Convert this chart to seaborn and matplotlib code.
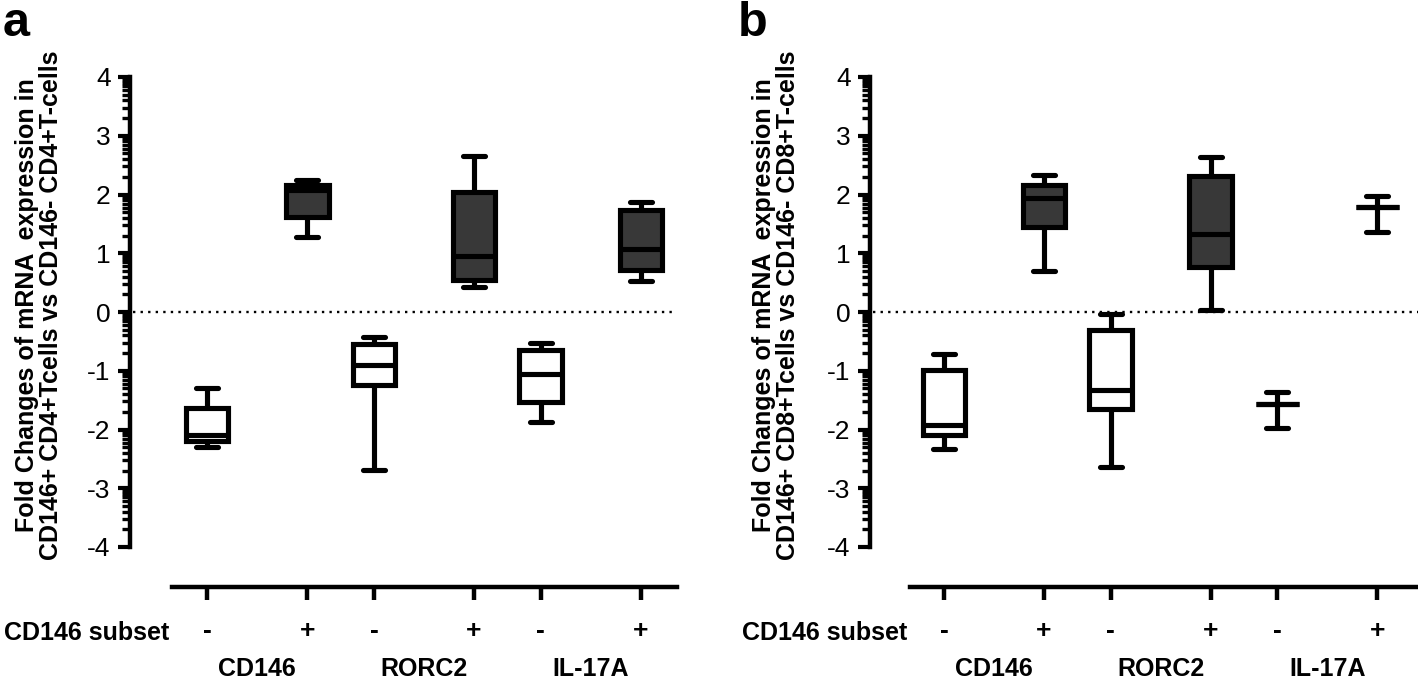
import numpy as np
import pandas as pd
import seaborn as sns
import matplotlib.pyplot as plt
from matplotlib.ticker import FixedLocator

genes = ['CD146', 'RORC2', 'IL-17A']
subsets = ['-', '+']

# five-number summaries
# order: CD146 -, CD146 +, RORC2 -, RORC2 +, IL-17A -, IL-17A +
cd4_min = [-2.29, 1.28, -2.69, 0.42, -1.87, 0.53]
cd4_q1 = [-2.20, 1.62, -1.24, 0.55, -1.53, 0.71]
cd4_med = [-2.10, 2.08, -0.91, 0.96, -1.05, 1.08]
cd4_q3 = [-1.64, 2.17, -0.55, 2.05, -0.64, 1.73]
cd4_max = [-1.30, 2.24, -0.42, 2.65, -0.53, 1.87]

cd8_min = [-2.34, 0.70, -2.63, 0.03, -1.98, 1.36]
cd8_q1 = [-2.09, 1.45, -1.65, 0.76, -1.57, 1.78]
cd8_med = [-1.92, 1.94, -1.32, 1.33, -1.57, 1.78]
cd8_q3 = [-0.98, 2.16, -0.31, 2.32, -1.57, 1.78]
cd8_max = [-0.71, 2.33, -0.03, 2.63, -1.36, 1.98]

ylabel_cd4 = 'Fold Changes of mRNA  expression in\nCD146+ CD4+Tcells vs CD146- CD4+T-cells'
ylabel_cd8 = 'Fold Changes of mRNA  expression in\nCD146+ CD8+Tcells vs CD146- CD8+T-cells'

sns.set_style('ticks')
plt.rcParams['font.family'] = ['Liberation Sans', 'DejaVu Sans']
plt.rcParams['axes.unicode_minus'] = False
for k in ('text.color', 'axes.labelcolor', 'axes.edgecolor', 'xtick.color', 'ytick.color'):
    plt.rcParams[k] = 'black'

W, H = 1418, 685
PT = 0.72  # points per pixel at dpi 100


def make_frame(mins, q1s, meds, q3s, maxs):
    rows = []
    i = 0
    for gi, g in enumerate(genes):
        for s in subsets:
            pos = gi * 2.5 + (1.5 if s == '+' else 0.0)
            for v in (mins[i], q1s[i], meds[i], q3s[i], maxs[i]):
                rows.append({'gene': g, 'subset': s, 'pos': pos, 'value': v})
            i += 1
    return pd.DataFrame(rows)


def px_axes(fig, left, right, top, bottom):
    return fig.add_axes([left / W, 1 - bottom / H, (right - left) / W, (bottom - top) / H])


def draw_panel(ax, df, ylabel, xlim, spine_px, left_px, width_px, line_end):
    ax.axhline(0, xmin=(spine_px + 3 - left_px) / width_px, xmax=line_end,
               color='black', lw=1.7, ls=(0, (1, 2.2)), clip_on=False, zorder=0.5)
    sns.boxplot(data=df, x='pos', y='value', hue='subset', hue_order=subsets,
                palette={'-': 'white', '+': '#383838'}, saturation=1,
                native_scale=True, dodge=False, width=0.64, whis=(0, 100),
                linecolor='black', linewidth=3.7, capwidths=0.33,
                capprops=dict(solid_capstyle='round'),
                legend=False, ax=ax)

    ax.set_xlim(*xlim)
    ax.set_ylim(-4, 4)
    ax.spines['top'].set_visible(False)
    ax.spines['right'].set_visible(False)
    ax.spines['left'].set_position(('outward', (left_px - spine_px) * PT))
    ax.spines['bottom'].set_position(('outward', 40 * PT))
    for s in ('left', 'bottom'):
        ax.spines[s].set_linewidth(3.2)
        ax.spines[s].set_color('black')

    ax.set_yticks(range(-4, 5))
    minor = [n + np.log10(k) for n in range(-4, 4) for k in range(2, 10)]
    ax.yaxis.set_minor_locator(FixedLocator(minor))
    ax.tick_params(axis='y', which='major', length=9, width=3.0, labelsize=19, pad=5)
    ax.tick_params(axis='y', which='minor', length=6, width=2.4)

    positions = sorted(df['pos'].unique())
    ax.set_xticks(positions)
    ax.set_xticklabels(subsets * 3, fontsize=19, fontweight='bold')
    ax.tick_params(axis='x', which='both', length=9, width=3.2, pad=14)
    ax.xaxis.set_minor_locator(FixedLocator([]))

    ax.set_xlabel('')
    ax.set_ylabel(ylabel, fontsize=18, fontweight='bold', linespacing=1.0)
    ax.yaxis.set_label_coords(-0.216, 0.515)

    ax.text(-0.005, (547 - 633) / 470, 'CD146 subset', transform=ax.transAxes,
            ha='right', va='center', fontsize=18, fontweight='bold')
    for gi, g in enumerate(genes):
        ax.text(gi * 2.5 + 0.75, (547 - 669) / 470, g, transform=ax.get_xaxis_transform(),
                ha='center', va='center', fontsize=18, fontweight='bold')


fig = plt.figure(figsize=(W / 100, H / 100), dpi=100)

ax_a = px_axes(fig, 172, 677, 77, 547)
draw_panel(ax_a, make_frame(cd4_min, cd4_q1, cd4_med, cd4_q3, cd4_max), ylabel_cd4,
           (-0.525, 7.04), 130, 172, 505, 0.996)

ax_b = px_axes(fig, 910, 1418, 77, 547)
draw_panel(ax_b, make_frame(cd8_min, cd8_q1, cd8_med, cd8_q3, cd8_max), ylabel_cd8,
           (-0.51, 7.11), 870, 910, 508, 1.0)

fig.text(3 / W, 1 - 1 / H, 'a', fontsize=35, fontweight='bold', va='top', ha='left')
fig.text(738 / W, 1 - 1 / H, 'b', fontsize=35, fontweight='bold', va='top', ha='left')

fig.savefig('out.png', dpi=100)
